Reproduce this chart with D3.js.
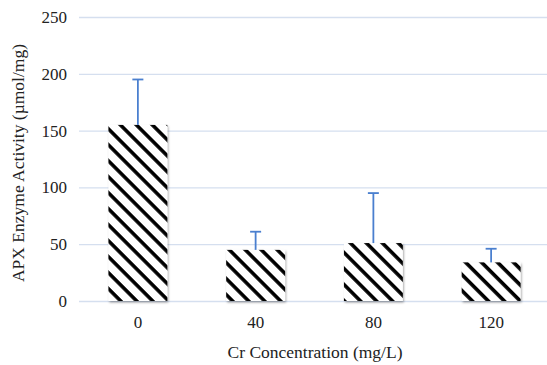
<!DOCTYPE html>
<html>
<head>
<meta charset="utf-8">
<script src="https://cdn.jsdelivr.net/npm/d3@7"></script>
</head>
<body style="margin:0;background:#fff">
<svg id="chart" width="547" height="365" font-family="Liberation Serif"></svg>
<script>
// data
const categories = ['0', '40', '80', '120'];
const means = [155, 45, 51, 34];
const errTops = [195, 61, 95, 46];
const yTicks = [0, 50, 100, 150, 200, 250];

const width = 547;
const height = 365;
const margin = { top: 17, right: -3, bottom: 64, left: 79 };
const fontFam = 'Liberation Serif';

const svg = d3.select('#chart');
const defs = svg.append('defs');

// diagonal stripe fill
const pat = defs.append('pattern')
    .attr('id', 'stripes')
    .attr('patternUnits', 'userSpaceOnUse')
    .attr('width', 11.3)
    .attr('height', 11.3)
    .attr('patternTransform', 'rotate(45)');
pat.append('rect').attr('width', 11.3).attr('height', 11.3).attr('fill', '#fff');
pat.append('rect').attr('width', 11.3).attr('height', 3.6).attr('fill', '#000');

const shadow = defs.append('filter').attr('id', 'shadow')
    .attr('x', '-10%').attr('y', '-10%').attr('width', '130%').attr('height', '130%');
shadow.append('feDropShadow')
    .attr('dx', 1).attr('dy', 1.5).attr('stdDeviation', 1.2)
    .attr('flood-color', '#000').attr('flood-opacity', 0.35);

const chartW = width - margin.left - margin.right;
const chartH = height - margin.top - margin.bottom;

const x = d3.scaleBand().domain(categories).range([0, chartW]).paddingInner(0.5).paddingOuter(0.25);
const y = d3.scaleLinear().domain([0, 250]).range([chartH, 0]);

const g = svg.append('g').attr('transform', `translate(${margin.left},${margin.top})`);

// grid
g.append('g')
    .call(d3.axisLeft(y).tickValues(yTicks).tickSize(-chartW).tickFormat(''))
    .call(s => s.select('.domain').remove())
    .call(s => s.selectAll('line').attr('stroke', '#d5dfef').attr('stroke-width', 1.3));

// y tick labels
g.append('g')
    .call(d3.axisLeft(y).tickValues(yTicks).tickSize(0).tickPadding(12))
    .attr('font-family', fontFam)
    .attr('font-size', 17)
    .call(s => s.select('.domain').remove())
    .call(s => s.selectAll('text').attr('fill', '#222'));

// x tick labels
g.append('g')
    .attr('transform', `translate(0,${chartH})`)
    .call(d3.axisBottom(x).tickSize(0).tickPadding(15))
    .attr('font-family', fontFam)
    .attr('font-size', 17)
    .call(s => s.select('.domain').remove())
    .call(s => s.selectAll('text').attr('fill', '#222'));

// bars
g.selectAll('.bar')
    .data(means)
    .enter()
    .append('rect')
    .attr('class', 'bar')
    .attr('x', (d, i) => x(categories[i]))
    .attr('width', x.bandwidth())
    .attr('y', d => y(d))
    .attr('height', d => chartH - y(d))
    .attr('fill', 'url(#stripes)')
    .attr('filter', 'url(#shadow)');

// error bars (upper only)
const errColor = '#4a7fcf';
const capW = 11;
g.selectAll('.err')
    .data(means)
    .enter()
    .append('line')
    .attr('class', 'err')
    .attr('x1', (d, i) => x(categories[i]) + x.bandwidth() / 2)
    .attr('x2', (d, i) => x(categories[i]) + x.bandwidth() / 2)
    .attr('y1', d => y(d))
    .attr('y2', (d, i) => y(errTops[i]))
    .attr('stroke', errColor)
    .attr('stroke-width', 1.8);
g.selectAll('.cap')
    .data(errTops)
    .enter()
    .append('line')
    .attr('class', 'cap')
    .attr('x1', (d, i) => x(categories[i]) + x.bandwidth() / 2 - capW / 2)
    .attr('x2', (d, i) => x(categories[i]) + x.bandwidth() / 2 + capW / 2)
    .attr('y1', d => y(d))
    .attr('y2', d => y(d))
    .attr('stroke', errColor)
    .attr('stroke-width', 1.8);

// axis titles
svg.append('text')
    .attr('x', 315)
    .attr('y', 358)
    .attr('text-anchor', 'middle')
    .attr('font-family', fontFam)
    .attr('font-size', 17.5)
    .attr('fill', '#222')
    .text('Cr Concentration (mg/L)');

svg.append('text')
    .attr('transform', 'translate(24,163) rotate(-90)')
    .attr('text-anchor', 'middle')
    .attr('font-family', fontFam)
    .attr('font-size', 17.5)
    .attr('fill', '#222')
    .text('APX Enzyme Activity (µmol/mg)');
</script>
</body>
</html>
